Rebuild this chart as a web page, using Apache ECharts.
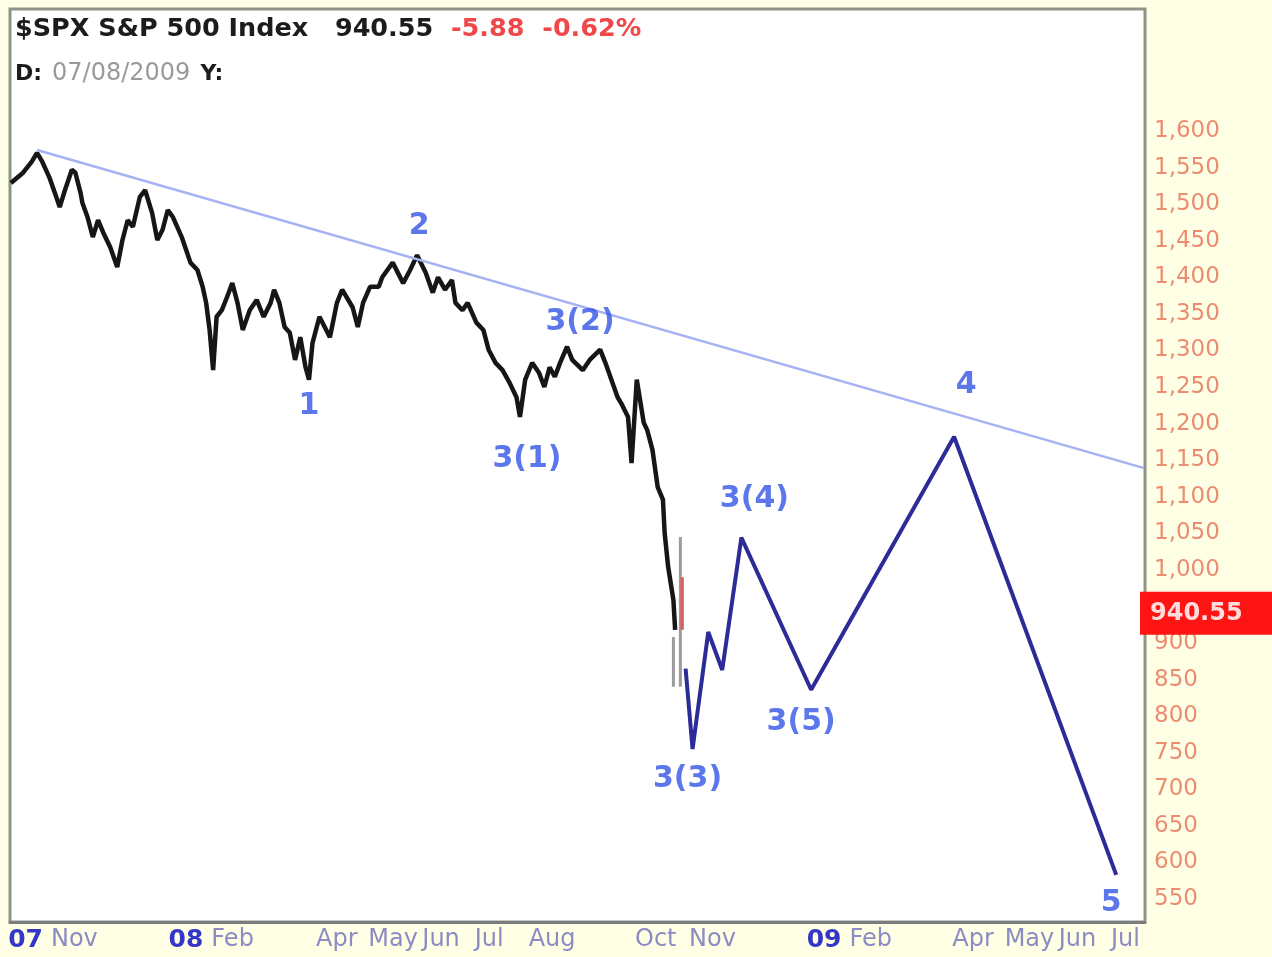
<!DOCTYPE html>
<html>
<head>
<meta charset="utf-8">
<script src="https://cdn.jsdelivr.net/npm/echarts@6/dist/echarts.min.js"></script>
<style>
html,body{margin:0;padding:0;background:#ffffe6;}
#chart{width:1272px;height:957px;}
</style>
</head>
<body>
<div id="chart"></div>
<script>
// ---- header values ----
const symbolName = '$SPX S&P 500 Index';
const lastClose = 940.55;
const changeAbs = '-5.88';
const changePct = '-0.62%';
const headerDate = '07/08/2009';

// ---- price history ----
const priceDates = [
 '2007-10-09','2007-10-16','2007-10-21','2007-10-24','2007-10-27','2007-10-31','2007-11-04','2007-11-06','2007-11-09','2007-11-13',
 '2007-11-15','2007-11-18','2007-11-19','2007-11-22','2007-11-25','2007-11-28','2007-12-01','2007-12-05','2007-12-09','2007-12-12',
 '2007-12-15','2007-12-18','2007-12-22','2007-12-25','2007-12-29','2008-01-01','2008-01-04','2008-01-07','2008-01-10','2008-01-15',
 '2008-01-17','2008-01-20','2008-01-24','2008-01-27','2008-01-29','2008-01-31','2008-02-02','2008-02-04','2008-02-07','2008-02-10',
 '2008-02-13','2008-02-16','2008-02-19','2008-02-23','2008-02-27','2008-03-02','2008-03-06','2008-03-08','2008-03-11','2008-03-14',
 '2008-03-17','2008-03-20','2008-03-23','2008-03-26','2008-03-28','2008-03-30','2008-04-03','2008-04-06','2008-04-09','2008-04-13',
 '2008-04-16','2008-04-22','2008-04-25','2008-04-28','2008-05-02','2008-05-07','2008-05-09','2008-05-15','2008-05-21','2008-05-25',
 '2008-05-29','2008-06-03','2008-06-07','2008-06-10','2008-06-14','2008-06-18','2008-06-20','2008-06-24','2008-06-27','2008-07-02',
 '2008-07-06','2008-07-09','2008-07-13','2008-07-17','2008-07-21','2008-07-25','2008-07-27','2008-07-30','2008-08-03','2008-08-07',
 '2008-08-10','2008-08-13','2008-08-16','2008-08-19','2008-08-23','2008-08-26','2008-09-01','2008-09-05','2008-09-11','2008-09-14',
 '2008-09-18','2008-09-21','2008-09-23','2008-09-27','2008-09-29','2008-10-02','2008-10-06','2008-10-08','2008-10-11','2008-10-14',
 '2008-10-17','2008-10-18','2008-10-20','2008-10-23','2008-10-24'
];
const priceValues = [
 1529,1543,1558,1570,1558,1537,1510,1496,1519,1547,
 1543,1515,1502,1482,1455,1478,1461,1441,1414,1451,
 1478,1469,1510,1519,1488,1451,1465,1492,1482,1455,
 1441,1420,1410,1387,1365,1328,1273,1346,1355,1373,
 1392,1365,1328,1355,1369,1346,1365,1383,1365,1332,
 1324,1287,1318,1277,1260,1310,1346,1332,1318,1365,
 1383,1359,1332,1365,1387,1387,1400,1420,1392,1410,
 1430,1406,1379,1400,1383,1396,1365,1355,1365,1338,
 1328,1301,1283,1273,1256,1236,1209,1260,1283,1269,
 1250,1277,1264,1283,1305,1287,1273,1287,1301,1283,
 1256,1236,1228,1209,1146,1260,1201,1191,1164,1113,
 1096,1050,1004,959,918
];
// last few high-low bars (gray) and the red down bar
const tailDates  = ['2008-10-23','2008-10-23','2008-10-25','2008-10-27','2008-10-27'];
const tailValues = [908, 840, null, 1045, 840];
const redBarDates  = ['2008-10-28','2008-10-28'];
const redBarValues = [990, 918];

// ---- projected wave path ----
const projDates  = ['2008-10-30','2008-11-03','2008-11-12','2008-11-20','2008-12-01','2009-01-10','2009-04-02','2009-07-04'];
const projValues = [865, 755, 915, 863, 1044, 836, 1182, 583];

// ---- trend line ----
const trendDates  = ['2007-10-24','2009-07-20'];
const trendValues = [1574, 1139];

// ---- wave labels ----
const waveLabels = ['1','2','3(1)','3(2)','3(3)','3(4)','3(5)','4','5'];
const waveDates  = ['2008-03-28','2008-05-29','2008-07-27','2008-08-23','2008-11-03','2008-12-01','2009-01-10','2009-04-02','2009-07-04'];
const waveValues = [1260, 1430, 1209, 1305, 755, 1044, 836, 1182, 583];
const waveLabelOffsets = [[0,27],[2,-29],[7,42],[13,-25],[-5,30],[13,-38],[-10,32],[12,-52],[-5,28]];

// ---- axes ----
const monthTicks = ['2007-11-01','2008-02-01','2008-04-01','2008-05-01','2008-06-01','2008-07-01','2008-08-01','2008-10-01','2008-11-01','2009-02-01','2009-04-01','2009-05-01','2009-06-01','2009-07-01'];
const yearTicks  = ['2007-11-01','2008-02-01','2009-02-01'];
const yearLabels = ['07','08','09'];
const monthNames = ['Jan','Feb','Mar','Apr','May','Jun','Jul','Aug','Sep','Oct','Nov','Dec'];
const yTicks = [550,600,650,700,750,800,850,900,950,1000,1050,1100,1150,1200,1250,1300,1350,1400,1450,1500,1550,1600];
const xMin = '2007-10-08 12:00:00';
const xMax = '2009-07-20 12:00:00';
const yMin = 518.5, yMax = 1766.8;

function ts(s){
  const [datePart, timePart] = s.split(' ');
  const [y,m,d] = datePart.split('-').map(Number);
  let hh = 0;
  if (timePart) hh = Number(timePart.split(':')[0]);
  return Date.UTC(y, m-1, d, hh);
}
const pairs = (ds, vs) => ds.map((d,i) => [ts(d), vs[i] == null ? '-' : vs[i]]);
const monthTickTs = monthTicks.map(ts);
const yearTickTs = yearTicks.map(ts);

const FONT = '"DejaVu Sans", Verdana, sans-serif';

const chart = echarts.init(document.getElementById('chart'), null, {renderer:'canvas'});
const option = {
  backgroundColor: '#ffffe6',
  animation: false,
  title: [
    {
      left: 10, top: 11,
      text: '{b|' + symbolName + '   ' + lastClose.toFixed(2) + '  }{r|' + changeAbs + '  ' + changePct + '}',
      textStyle: { rich: {
        b: { fontFamily: FONT, fontSize: 25.5, fontWeight: 'bold', color: '#1c1c1c' },
        r: { fontFamily: FONT, fontSize: 25.5, fontWeight: 'bold', color: '#f04848' }
      } }
    },
    {
      left: 10, top: 57,
      text: '{b|D:}  {g|' + headerDate + '}  {b|Y:}',
      textStyle: { rich: {
        b: { fontFamily: FONT, fontSize: 22, fontWeight: 'bold', color: '#1c1c1c' },
        g: { fontFamily: FONT, fontSize: 24, fontWeight: 'normal', color: '#9a9a9a' }
      } }
    }
  ],
  grid: { left: 10, right: 127, top: 9, bottom: 35, show: true, backgroundColor: '#ffffff', borderColor: '#8e9486', borderWidth: 3 },
  xAxis: [
    {
      type: 'value', min: ts(xMin), max: ts(xMax), scale: true,
      axisLine: { show: true, lineStyle: { color: '#7c7c7c', width: 3 } },
      axisTick: { show: false }, splitLine: { show: false },
      axisLabel: {
        customValues: monthTickTs,
        formatter: v => monthNames[new Date(v).getUTCMonth()],
        align: 'left', margin: 6, color: '#8c8cc4', fontSize: 24, fontFamily: FONT
      }
    },
    {
      type: 'value', min: ts(xMin), max: ts(xMax), scale: true, position: 'bottom',
      axisLine: { show: false }, axisTick: { show: false }, splitLine: { show: false },
      axisLabel: {
        customValues: yearTickTs,
        formatter: v => yearLabels[yearTickTs.indexOf(v)] || '',
        align: 'right', margin: 6, padding: [0, 8, 0, 0], color: '#3535c8', fontWeight: 'bold', fontSize: 25, fontFamily: FONT
      }
    }
  ],
  yAxis: {
    type: 'value', position: 'right', min: yMin, max: yMax,
    axisLine: { show: false }, axisTick: { show: false }, splitLine: { show: false },
    axisLabel: {
      customValues: yTicks,
      formatter: v => Number(v).toLocaleString('en-US'),
      color: '#ec8c70', fontSize: 23, margin: 9, fontFamily: FONT
    }
  },
  series: [
    {
      name: 'price', type: 'line', data: pairs(priceDates, priceValues),
      showSymbol: false, symbol: 'none', z: 3,
      lineStyle: { color: '#161616', width: 4.5 },
      markLine: {
        silent: true, symbol: 'none', animation: false,
        lineStyle: { width: 0, color: 'rgba(0,0,0,0)' },
        data: [{ yAxis: lastClose }],
        label: {
          show: true, position: 'end', distance: -5,
          formatter: () => lastClose.toFixed(2),
          backgroundColor: '#ff1414', color: '#ffdcdc',
          fontFamily: FONT, fontSize: 24, fontWeight: 'bold',
          padding: [10, 40, 9, 10]
        }
      }
    },
    {
      name: 'tail', type: 'line', data: pairs(tailDates, tailValues),
      showSymbol: false, symbol: 'none', connectNulls: false, z: 2,
      lineStyle: { color: '#9c9c9c', width: 3 }
    },
    {
      name: 'redbar', type: 'line', data: pairs(redBarDates, redBarValues),
      showSymbol: false, symbol: 'none', z: 3,
      lineStyle: { color: '#d86060', width: 3.5 }
    },
    {
      name: 'projection', type: 'line', data: pairs(projDates, projValues),
      showSymbol: false, symbol: 'none', z: 4,
      lineStyle: { color: '#2c2c98', width: 4 }
    },
    {
      name: 'trend', type: 'line', data: pairs(trendDates, trendValues),
      showSymbol: false, symbol: 'none', z: 5,
      lineStyle: { color: '#a6b2f2', width: 2.5 }
    },
    {
      name: 'waves', type: 'scatter', z: 6,
      symbolSize: 1, itemStyle: { color: 'rgba(0,0,0,0)' },
      data: waveLabels.map((t,i) => ({
        name: t, value: [ts(waveDates[i]), waveValues[i]],
        label: { offset: waveLabelOffsets[i] }
      })),
      label: {
        show: true, position: 'inside', formatter: p => p.name,
        color: '#3355e6', fontFamily: FONT, fontSize: 30, fontWeight: 'bold'
      }
    }
  ]
};
chart.setOption(option);
</script>
</body>
</html>
